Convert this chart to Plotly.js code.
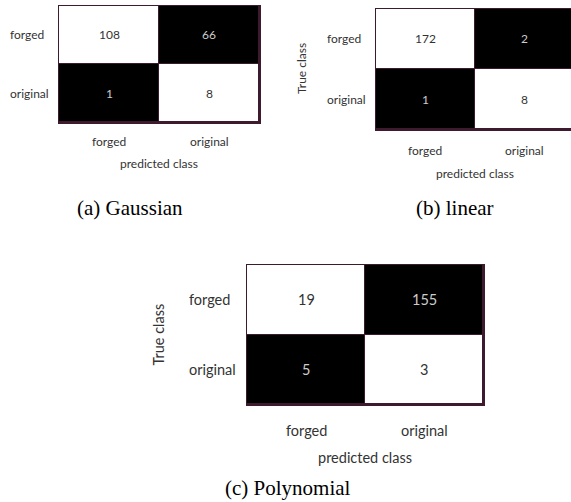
<!DOCTYPE html>
<html>
<head>
<meta charset="utf-8">
<script src="https://cdn.plot.ly/plotly-3.0.1.min.js"></script>
<style>html,body{margin:0;padding:0;background:#fff;}#chart{width:571px;height:502px;}</style>
</head>
<body>
<div id="chart"></div>
<script>
// ---- data ----
const classes = ['forged', 'original'];
const gaussianCounts = [[108, 66], [1, 8]];
const linearCounts = [[172, 2], [1, 8]];
const polynomialCounts = [[19, 155], [5, 3]];
// cell shade: 1 = white (diagonal), 0 = black
const cellShade = [[1, 0], [0, 1]];
const captions = ['(a) Gaussian', '(b) linear', '(c) Polynomial'];
const xTitle = 'predicted class';
const yTitle = 'True class';

// ---- layout helpers (pixel geometry) ----
const W = 571, H = 502;
const px = v => v / W;
const py = v => 1 - v / H;
const border = '#3d1a2e';
const sans = 'Lato';
const serif = 'Times New Roman, Liberation Serif, DejaVu Serif, serif';

const panels = [
  {counts: gaussianCounts, x0: 59, x1: 259, y0: 6, y1: 122, fs: 12, xr: [-0.5, 1.5], rowX: 8,
   colY: 142, predY: 164, cap: captions[0], capX: 130, capY: 208, trueX: null},
  {counts: linearCounts, x0: 376, x1: 571, y0: 9, y1: 129, fs: 12, xr: [-0.5, -0.5 + 195 / 99], rowX: 325,
   colY: 151, predY: 173, cap: captions[1], capX: 455, capY: 208, trueX: 301},
  {counts: polynomialCounts, x0: 247, x1: 483, y0: 265, y1: 404, fs: 14.5, xr: [-0.5, 1.5], rowX: 187,
   colY: 430, predY: 457, cap: captions[2], capX: 288, capY: 488, trueX: 158}
];

const data = [];
const layout = {
  width: W, height: H,
  margin: {l: 0, r: 0, t: 0, b: 0},
  paper_bgcolor: '#fff', plot_bgcolor: border,
  showlegend: false,
  annotations: []
};

panels.forEach((p, i) => {
  const n = i === 0 ? '' : String(i + 1);
  const xa = 'x' + n, ya = 'y' + n;
  data.push({
    type: 'heatmap', x: classes, y: classes, z: cellShade,
    xaxis: xa, yaxis: ya,
    colorscale: [[0, '#000'], [1, '#fff']], zmin: 0, zmax: 1,
    showscale: false, xgap: 1, ygap: 1, hoverinfo: 'skip'
  });
  const axCommon = {
    type: 'category', showgrid: false, zeroline: false,
    showline: true, linecolor: border, linewidth: 1.5, mirror: true,
    ticks: '', fixedrange: true, showticklabels: false
  };
  layout['xaxis' + n] = Object.assign({}, axCommon, {
    domain: [px(p.x0), px(p.x1)], anchor: ya, range: p.xr
  });
  layout['yaxis' + n] = Object.assign({}, axCommon, {
    domain: [py(p.y1), py(p.y0)], anchor: xa, range: [1.5, -0.5]
  });
  // cell values
  p.counts.forEach((row, r) => row.forEach((v, c) => {
    layout.annotations.push({
      xref: xa, yref: ya, x: classes[c], y: classes[r], text: String(v),
      xanchor: 'center', yanchor: 'middle', showarrow: false,
      font: {family: sans, size: p.fs, color: cellShade[r][c] ? '#333' : '#ccc'}
    });
  }));
  // row labels (left-aligned)
  classes.forEach(cl => {
    layout.annotations.push({
      xref: 'paper', yref: ya, x: px(p.rowX), y: cl, xanchor: 'left', yanchor: 'middle',
      text: cl, showarrow: false,
      font: {family: sans, size: p.fs, color: '#333'}
    });
  });
  // column labels
  classes.forEach(cl => {
    layout.annotations.push({
      xref: xa, yref: 'paper', x: cl, y: py(p.colY), xanchor: 'center', yanchor: 'middle',
      text: cl, showarrow: false,
      font: {family: sans, size: p.fs, color: '#333'}
    });
  });
  const cx = (p.x0 + (i === 1 ? 574 : p.x1)) / 2;
  layout.annotations.push({
    xref: 'paper', yref: 'paper', x: px(cx), y: py(p.predY), xanchor: 'center', yanchor: 'middle',
    text: xTitle, showarrow: false, font: {family: sans, size: p.fs, color: '#333'}
  });
  if (p.trueX !== null) {
    layout.annotations.push({
      xref: 'paper', yref: 'paper', x: px(p.trueX), y: py((p.y0 + p.y1) / 2),
      xanchor: 'center', yanchor: 'middle', textangle: -90,
      text: yTitle, showarrow: false, font: {family: sans, size: p.fs, color: '#333'}
    });
  }
  layout.annotations.push({
    xref: 'paper', yref: 'paper', x: px(p.capX), y: py(p.capY), xanchor: 'center', yanchor: 'middle',
    text: p.cap, showarrow: false, font: {family: serif, size: 21, color: '#000'}
  });
});

Plotly.newPlot('chart', data, layout, {displayModeBar: false, staticPlot: true});
</script>
</body>
</html>
